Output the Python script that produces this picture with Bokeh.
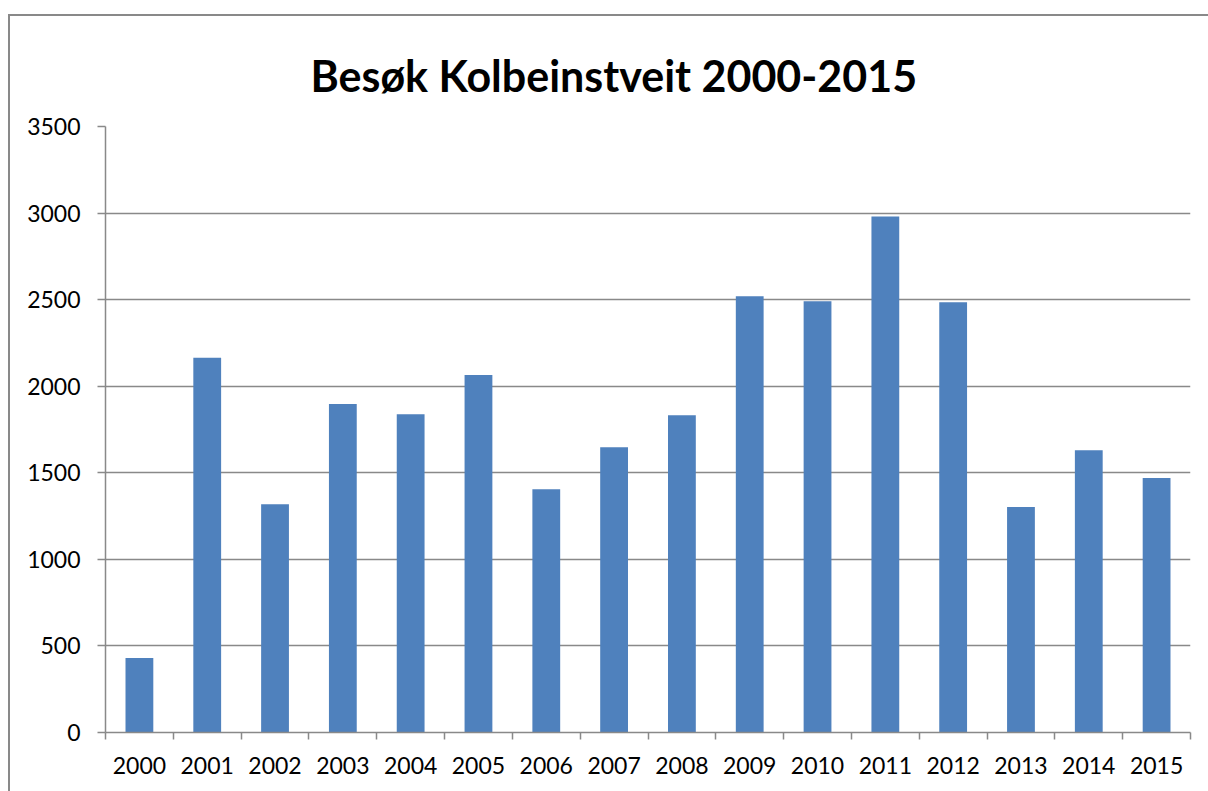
from bokeh.plotting import figure
from bokeh.models import Range1d, FixedTicker, Title
from bokeh.embed import file_html
from bokeh.resources import INLINE

years = ["2000", "2001", "2002", "2003", "2004", "2005", "2006", "2007",
         "2008", "2009", "2010", "2011", "2012", "2013", "2014", "2015"]
visits = [430, 2165, 1318, 1897, 1838, 2065, 1405, 1647,
          1833, 2520, 2490, 2980, 2485, 1302, 1630, 1470]
y_ticks = [0, 500, 1000, 1500, 2000, 2500, 3000, 3500]
title_text = "Besøk Kolbeinstveit 2000-2015"

GRAY = "#898989"
BAR = "#4F81BD"
FONT = "Lato"

centers = [i + 0.5 for i in range(len(years))]
bounds = list(range(len(years) + 1))

p = figure(width=1230, height=800, output_backend="svg", toolbar_location=None,
           x_range=Range1d(0, len(years)), y_range=Range1d(0, 3500),
           min_border_left=97, min_border_right=48, min_border_top=112,
           min_border_bottom=82, title=None,
           margin=(14, 0, 0, 8),
           styles={"box-shadow": "inset 2px 2px 0px 0px #898989",
                   "background-color": "white"})

p.add_layout(Title(text=title_text, text_font=FONT, text_font_style="bold",
                   text_font_size="43px", text_color="black", align="left",
                   offset=205, standoff=52), "above")

p.vbar(x=centers, top=visits, width=0.41, fill_color=BAR, line_color=None)

p.outline_line_color = None
p.background_fill_color = "white"
p.border_fill_alpha = 0

# y axis
ya = p.yaxis[0]
ya.ticker = FixedTicker(ticks=y_ticks)
ya.axis_line_color = GRAY
ya.axis_line_width = 1.5
ya.major_tick_line_color = GRAY
ya.major_tick_line_width = 1.5
ya.major_tick_out = 8
ya.major_tick_in = 0
ya.minor_tick_line_color = None
ya.major_label_text_font = FONT
ya.major_label_text_font_size = "23px"
ya.major_label_text_color = "black"
ya.major_label_standoff = 17

# x axis
xa = p.xaxis[0]
xa.ticker = FixedTicker(ticks=centers, minor_ticks=bounds)
xa.major_label_overrides = {c: y for c, y in zip(centers, years)}
xa.axis_line_color = GRAY
xa.axis_line_width = 1.5
xa.major_tick_line_color = None
xa.major_tick_out = 0
xa.major_tick_in = 0
xa.minor_tick_line_color = GRAY
xa.minor_tick_line_width = 1.5
xa.minor_tick_out = 7
xa.minor_tick_in = 0
xa.major_label_text_font = FONT
xa.major_label_text_font_size = "23px"
xa.major_label_text_color = "black"
xa.major_label_standoff = 17

p.xgrid.grid_line_color = None
p.ygrid.ticker = FixedTicker(ticks=y_ticks)
p.ygrid.grid_line_color = GRAY
p.ygrid.grid_line_width = 1.5

html = file_html(p, INLINE)
html = html.replace("</head>", "<style>html, body { overflow: hidden !important; }</style></head>", 1)
open("out.html", "w").write(html)
